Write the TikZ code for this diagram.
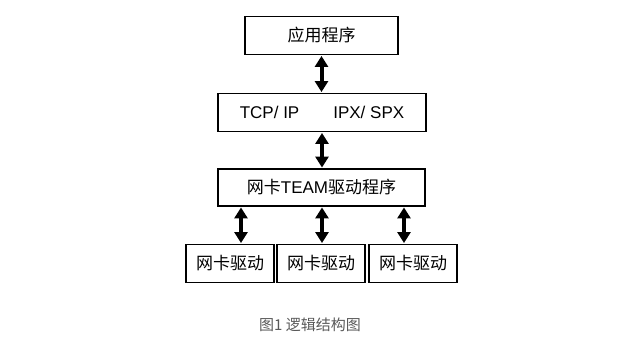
\documentclass[tikz,border=0pt]{standalone}
\usepackage{fontspec}
\setmainfont{Liberation Sans}
\newfontfamily\cjk{Noto Sans CJK SC}
\usetikzlibrary{arrows.meta,positioning,calc}

\begin{document}
\begin{tikzpicture}[
    x=1pt, y=-1pt,
    layer/.style={draw, line width=1.9pt, fill=white,
                  minimum height=38pt, inner sep=0pt,
                  font=\fontsize{17}{20}\selectfont},
    nic/.style={layer, minimum width=88pt},
    arr/.style={{Triangle[length=11pt,width=13pt]}-{Triangle[length=11pt,width=13pt]},
                line width=4pt, shorten >=0.5pt, shorten <=0.5pt}
]
\useasboundingbox (0,0) rectangle (640,342);

\node[layer, minimum width=153pt] (app) at (321.5,35.5) {\cjk 应用程序};
\node[layer, minimum width=208pt] (proto) at (322,112.5) {TCP/ IP\hspace{34pt}IPX/ SPX};
\node[layer, minimum width=207pt, minimum height=37pt] (team) at (321.5,187.5)
    {{\cjk 网卡}TEAM{\cjk 驱动程序}};
\node[nic] (nic1) at (230,263.5) {\cjk 网卡驱动};
\node[nic] (nic2) at (321,263.5) {\cjk 网卡驱动};
\node[nic] (nic3) at (413,263.5) {\cjk 网卡驱动};

\node[text=black!65, font=\cjk\fontsize{15}{18}\selectfont] (cap) at (310,325) {图1 逻辑结构图};

\draw[arr] (app.south) -- (app.south |- proto.north);
\draw[arr] (proto.south) -- (proto.south |- team.north);
\draw[arr] ([xshift=11pt]nic1.north) -- ([xshift=11pt]nic1.north |- team.south);
\draw[arr] ([xshift=1pt]nic2.north) -- ([xshift=1pt]nic2.north |- team.south);
\draw[arr] ([xshift=-9pt]nic3.north) -- ([xshift=-9pt]nic3.north |- team.south);
\end{tikzpicture}
\end{document}
